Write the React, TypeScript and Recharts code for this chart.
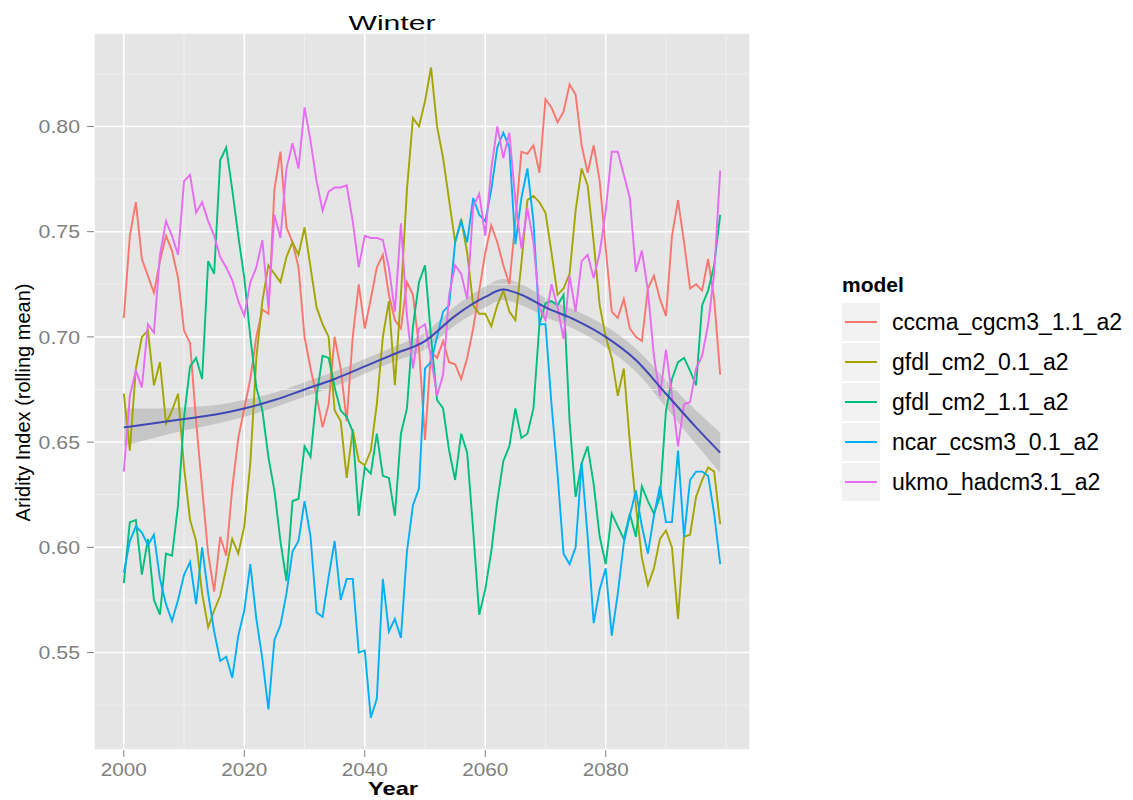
import {
  ComposedChart,
  Line,
  Area,
  XAxis,
  YAxis,
  CartesianGrid,
  ReferenceLine,
} from 'recharts';

// yearly rolling-mean aridity index, one array per model run
const years = Array.from({ length: 100 }, (_, i) => 2000 + i);

const cccma = [
  0.709, 0.748, 0.764, 0.737, 0.729, 0.721, 0.736, 0.748, 0.741, 0.728,
  0.703, 0.697, 0.660, 0.628, 0.597, 0.579, 0.605, 0.596, 0.628, 0.652,
  0.666, 0.680, 0.700, 0.713, 0.711, 0.770, 0.788, 0.752, 0.745, 0.733,
  0.700, 0.685, 0.672, 0.657, 0.668, 0.700, 0.685, 0.660, 0.700, 0.725,
  0.704, 0.718, 0.733, 0.739, 0.720, 0.708, 0.704, 0.726, 0.720, 0.695,
  0.651, 0.693, 0.690, 0.698, 0.688, 0.687, 0.680, 0.690, 0.704, 0.722,
  0.740, 0.753, 0.745, 0.734, 0.725, 0.755, 0.788, 0.787, 0.791, 0.778,
  0.813, 0.809, 0.802, 0.807, 0.820, 0.815, 0.791, 0.778, 0.791, 0.774,
  0.742, 0.712, 0.709, 0.718, 0.704, 0.700, 0.698, 0.723, 0.729, 0.718,
  0.710, 0.748, 0.765, 0.745, 0.723, 0.725, 0.722, 0.737, 0.718, 0.682,
];

const gfdl01 = [
  0.673, 0.646, 0.685, 0.700, 0.703, 0.677, 0.688, 0.659, 0.665, 0.673,
  0.638, 0.613, 0.603, 0.578, 0.562, 0.570, 0.577, 0.590, 0.604, 0.597,
  0.610, 0.640, 0.690, 0.717, 0.734, 0.730, 0.726, 0.738, 0.745, 0.739,
  0.752, 0.733, 0.714, 0.706, 0.700, 0.665, 0.660, 0.633, 0.656, 0.641,
  0.639, 0.646, 0.668, 0.700, 0.717, 0.677, 0.720, 0.770, 0.804, 0.800,
  0.812, 0.828, 0.800, 0.785, 0.765, 0.745, 0.756, 0.740, 0.715, 0.711,
  0.711, 0.705, 0.715, 0.722, 0.712, 0.708, 0.735, 0.765, 0.767, 0.764,
  0.759, 0.740, 0.720, 0.723, 0.730, 0.760, 0.780, 0.772, 0.745, 0.715,
  0.700, 0.690, 0.672, 0.685, 0.650, 0.620, 0.595, 0.582, 0.590, 0.604,
  0.608, 0.600, 0.566, 0.605, 0.606, 0.624, 0.632, 0.638, 0.636, 0.611,
];

const gfdl11 = [
  0.583, 0.612, 0.613, 0.587, 0.604, 0.575, 0.568, 0.597, 0.596, 0.620,
  0.662, 0.686, 0.690, 0.680, 0.736, 0.730, 0.784, 0.790, 0.770, 0.748,
  0.728, 0.700, 0.676, 0.665, 0.643, 0.627, 0.603, 0.584, 0.622, 0.623,
  0.648, 0.643, 0.672, 0.691, 0.690, 0.676, 0.665, 0.662, 0.655, 0.615,
  0.638, 0.635, 0.654, 0.634, 0.633, 0.615, 0.654, 0.666, 0.705, 0.726,
  0.734, 0.700, 0.670, 0.666, 0.646, 0.632, 0.654, 0.645, 0.608, 0.568,
  0.580, 0.598, 0.622, 0.641, 0.648, 0.666, 0.652, 0.654, 0.666, 0.706,
  0.716, 0.717, 0.715, 0.720, 0.660, 0.624, 0.640, 0.648, 0.630, 0.605,
  0.592, 0.616, 0.610, 0.604, 0.616, 0.605, 0.629, 0.622, 0.616, 0.624,
  0.665, 0.680, 0.688, 0.690, 0.684, 0.677, 0.715, 0.722, 0.734, 0.758,
];

const ncar = [
  0.588, 0.603, 0.610, 0.607, 0.601, 0.606, 0.585, 0.573, 0.565, 0.575,
  0.587, 0.593, 0.573, 0.600, 0.578, 0.560, 0.546, 0.548, 0.538, 0.558,
  0.570, 0.592, 0.566, 0.547, 0.523, 0.556, 0.563, 0.578, 0.598, 0.603,
  0.622, 0.605, 0.569, 0.567, 0.586, 0.603, 0.575, 0.585, 0.585, 0.550,
  0.551, 0.519, 0.528, 0.585, 0.560, 0.566, 0.557, 0.598, 0.620, 0.628,
  0.685, 0.688, 0.700, 0.712, 0.715, 0.745, 0.755, 0.745, 0.766, 0.758,
  0.755, 0.770, 0.790, 0.797, 0.790, 0.744, 0.766, 0.780, 0.755, 0.706,
  0.706, 0.668, 0.635, 0.597, 0.592, 0.600, 0.640, 0.605, 0.564, 0.580,
  0.590, 0.558, 0.578, 0.602, 0.615, 0.627, 0.610, 0.597, 0.615, 0.629,
  0.612, 0.612, 0.646, 0.605, 0.632, 0.636, 0.636, 0.634, 0.616, 0.592,
];

const ukmo = [
  0.636, 0.672, 0.684, 0.676, 0.706, 0.702, 0.739, 0.755, 0.748, 0.739,
  0.774, 0.777, 0.759, 0.764, 0.755, 0.748, 0.738, 0.733, 0.727, 0.717,
  0.710, 0.726, 0.733, 0.746, 0.714, 0.758, 0.747, 0.780, 0.792, 0.780,
  0.809, 0.793, 0.774, 0.760, 0.769, 0.771, 0.771, 0.772, 0.755, 0.733,
  0.748, 0.747, 0.747, 0.746, 0.733, 0.712, 0.754, 0.710, 0.685, 0.704,
  0.706, 0.690, 0.672, 0.682, 0.720, 0.734, 0.730, 0.718, 0.762, 0.768,
  0.748, 0.780, 0.800, 0.785, 0.797, 0.765, 0.742, 0.761, 0.745, 0.714,
  0.708, 0.725, 0.714, 0.699, 0.729, 0.712, 0.736, 0.739, 0.728, 0.740,
  0.760, 0.788, 0.788, 0.777, 0.766, 0.731, 0.741, 0.722, 0.691, 0.672,
  0.694, 0.672, 0.648, 0.668, 0.669, 0.685, 0.691, 0.706, 0.730, 0.779,
];

// loess fit over all models, with its standard-error half width
const smoothYears = [
  2000, 2005, 2010, 2015, 2020, 2025, 2030, 2035, 2040, 2045, 2050,
  2055, 2060, 2063, 2066, 2070, 2075, 2080, 2085, 2090, 2095, 2099,
];
const smoothFit = [
  0.657, 0.659, 0.661, 0.663, 0.666, 0.670, 0.675, 0.680, 0.686, 0.692, 0.698,
  0.710, 0.719, 0.7225, 0.720, 0.714, 0.708, 0.700, 0.689, 0.673, 0.657, 0.645,
];
const smoothSe = [
  0.009, 0.007, 0.0055, 0.0045, 0.004, 0.0035, 0.0035, 0.0035, 0.0035, 0.0035, 0.004,
  0.0045, 0.005, 0.005, 0.005, 0.0045, 0.0045, 0.005, 0.0055, 0.0065, 0.008, 0.0095,
];

const xTicks = [2000, 2020, 2040, 2060, 2080];
const xMinor = [2010, 2030, 2050, 2070, 2090, 2100];
const yTicks = [0.55, 0.6, 0.65, 0.7, 0.75, 0.8];
const yMinor = [0.525, 0.575, 0.625, 0.675, 0.725, 0.775, 0.825];

const models = [
  { key: 'cccma', name: 'cccma_cgcm3_1.1_a2', color: '#F8766D' },
  { key: 'gfdl01', name: 'gfdl_cm2_0.1_a2', color: '#A3A500' },
  { key: 'gfdl11', name: 'gfdl_cm2_1.1_a2', color: '#00BF7D' },
  { key: 'ncar', name: 'ncar_ccsm3_0.1_a2', color: '#00B0F6' },
  { key: 'ukmo', name: 'ukmo_hadcm3.1_a2', color: '#E76BF3' },
];

const rows = years.map((year, i) => ({
  year,
  cccma: cccma[i],
  gfdl01: gfdl01[i],
  gfdl11: gfdl11[i],
  ncar: ncar[i],
  ukmo: ukmo[i],
}));

const smoothRows = smoothYears.map((year, i) => ({
  year,
  fit: smoothFit[i],
  band: [smoothFit[i] - smoothSe[i], smoothFit[i] + smoothSe[i]],
}));

const FONT = '"Liberation Sans", Arial, Helvetica, sans-serif';
const TICK_GREY = '#7F7F7F';

const YTick = ({ x, y, payload }: any) => (
  <text
    x={x}
    y={y}
    dy="0.36em"
    textAnchor="end"
    fill={TICK_GREY}
    fontSize={18.5}
    fontFamily={FONT}
    transform={`translate(${x} ${y}) scale(1.15 1) translate(${-x} ${-y})`}
  >
    {Number(payload.value).toFixed(2)}
  </text>
);

const XTick = ({ x, y, payload }: any) => (
  <text
    x={x}
    y={y}
    dy="0.71em"
    textAnchor="middle"
    fill={TICK_GREY}
    fontSize={18.5}
    fontFamily={FONT}
    transform={`translate(${x} ${y}) scale(1.12 1) translate(${-x} ${-y})`}
  >
    {payload.value}
  </text>
);

export default function App() {
  return (
    <div style={{ position: 'relative', width: 1117, height: 792, fontFamily: FONT }}>
      <ComposedChart
        width={760}
        height={780}
        data={rows}
        margin={{ top: 25, right: 18, bottom: 8, left: 26 }}
      >
        <CartesianGrid fill="#E5E5E5" stroke="#FFFFFF" strokeWidth={1.5} />
        {xMinor.map((v) => (
          <ReferenceLine key={`x${v}`} x={v} stroke="#F2F2F2" strokeWidth={0.8} />
        ))}
        {yMinor.map((v) => (
          <ReferenceLine key={`y${v}`} y={v} stroke="#F2F2F2" strokeWidth={0.8} />
        ))}
        <XAxis
          type="number"
          dataKey="year"
          domain={[1995.05, 2103.95]}
          ticks={xTicks}
          allowDataOverflow
          axisLine={false}
          tickLine={{ stroke: TICK_GREY }}
          tickSize={7}
          tickMargin={6}
          height={30}
          tick={<XTick />}
        />
        <YAxis
          type="number"
          domain={[0.5037, 0.8444]}
          ticks={yTicks}
          allowDataOverflow
          axisLine={false}
          tickLine={{ stroke: TICK_GREY }}
          tickSize={7}
          tickMargin={7}
          width={60}
          tick={<YTick />}
        />
        {models.map((m) => (
          <Line
            key={m.key}
            type="linear"
            dataKey={m.key}
            name={m.name}
            stroke={m.color}
            strokeWidth={1.9}
            dot={false}
            isAnimationActive={false}
          />
        ))}
        <Area
          data={smoothRows}
          type="monotone"
          dataKey="band"
          stroke="none"
          fill="#999999"
          fillOpacity={0.4}
          isAnimationActive={false}
        />
        <Line
          data={smoothRows}
          type="monotone"
          dataKey="fit"
          stroke="#3F48B5"
          strokeWidth={2}
          dot={false}
          isAnimationActive={false}
        />
      </ComposedChart>

      {/* titles and legend, laid out in page coordinates */}
      <svg
        width={1133}
        height={800}
        style={{ position: 'absolute', left: -8, top: -8, pointerEvents: 'none' }}
      >
        <text x={348.5} y={30} fontSize={21} fill="#000" textLength={87} lengthAdjust="spacingAndGlyphs">
          Winter
        </text>
        <text x={368} y={795} fontSize={18.6} fontWeight="bold" fill="#000" textLength={50} lengthAdjust="spacingAndGlyphs">
          Year
        </text>
        <text
          x={30}
          y={402.5}
          fontSize={20}
          fill="#000"
          textAnchor="middle"
          transform="rotate(-90 30 402.5)"
        >
          Aridity Index (rolling mean)
        </text>

        <text x={842} y={292} fontSize={21} fontWeight="bold" fill="#000">
          model
        </text>
        {models.map((m, i) => {
          const top = 303 + i * 40;
          return (
            <g key={m.key}>
              <rect x={842} y={top} width={38} height={38} fill="#F2F2F2" />
              <line x1={845} x2={877} y1={top + 19} y2={top + 19} stroke={m.color} strokeWidth={2} />
              <text x={892} y={top + 27} fontSize={23} fill="#000">
                {m.name}
              </text>
            </g>
          );
        })}
      </svg>
    </div>
  );
}
